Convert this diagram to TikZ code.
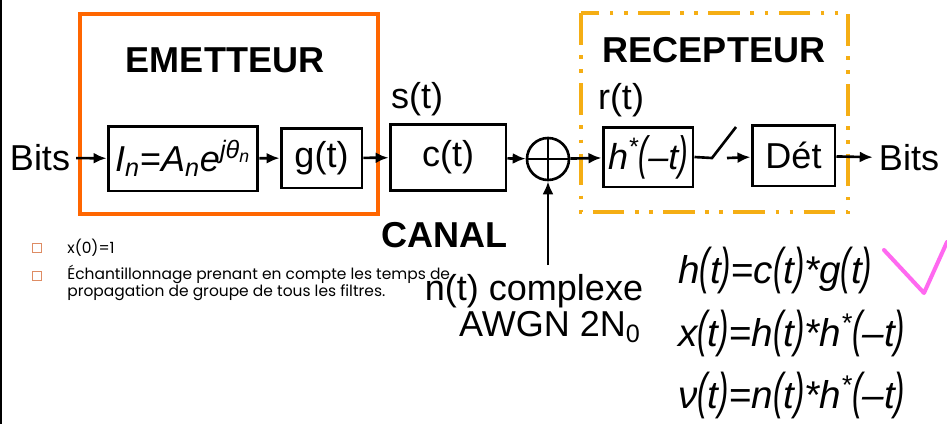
\documentclass[tikz,border=0pt]{standalone}
\usepackage{fontspec}
\setmainfont{Liberation Sans}
\newfontfamily\notefont{Poppins}
\usepackage{graphicx}
\usetikzlibrary{arrows.meta}

\newcommand{\pr}[1]{\scalebox{0.8}[1.3]{(}#1\scalebox{0.8}[1.3]{)}}

\begin{document}
\begin{tikzpicture}[x=0.02cm, y=-0.02cm, >={Latex[length=2.6mm,width=2.2mm]},
    font=\fontsize{20.5}{24}\selectfont,
    blk/.style={draw, line width=1.7pt, inner sep=0pt},
    flow/.style={->, line width=1.5pt},
    note/.style={font=\notefont\fontsize{8.8}{10}\selectfont, anchor=west, inner sep=0pt},
    bul/.style={draw=bulcol, line width=0.6pt, minimum size=0.17cm, inner sep=0pt},
    eqn/.style={font=\fontsize{22}{26}\selectfont\itshape, anchor=west, inner sep=0pt}]
    \definecolor{emorange}{RGB}{255,102,0}
    \definecolor{recyellow}{RGB}{245,174,20}
    \definecolor{bulcol}{RGB}{222,140,100}
    \definecolor{checkpink}{RGB}{255,105,240}

    \useasboundingbox (0,0) rectangle (947,424);
    \fill[white] (0,0) rectangle (947,424);
    \draw[line width=1.5pt] (1,0) -- (1,424);

    % emetteur / recepteur frames
    \draw[emorange, line width=2.3pt] (80,14) rectangle (378,214);
    \draw[recyellow, line width=2.2pt, dash pattern=on 18pt off 6pt on 2pt off 6pt on 2pt off 6pt] (581,13) rectangle (848,212);
    \node (emt) at (225,60) {\bfseries EMETTEUR};
    \node (rec) at (714,50) {\bfseries RECEPTEUR};
    \node (can) at (445,235) {\bfseries CANAL};

    % chain
    \node (bin) at (40,158) {Bits};
    \node[blk, minimum width=3.0cm, minimum height=1.3cm] (mod) at (183,158.5) {\textit{I}\textsubscript{\textit{n}}=\textit{A}\textsubscript{\textit{n}}\textit{e}\textsuperscript{\textit{jθ}\textsubscript{\textit{n}}}};
    \node[blk, minimum width=1.62cm, minimum height=1.2cm] (g) at (321.5,158) {g(t)};
    \node[blk, minimum width=2.32cm, minimum height=1.32cm] (c) at (448,157.5) {c(t)};
    \node[draw, circle, line width=1.5pt, minimum size=0.84cm, inner sep=0pt] (sum) at (548,159) {};
    \draw[line width=1.5pt] (sum.north) -- (sum.south) (sum.west) -- (sum.east);
    \node[blk, minimum width=1.8cm, minimum height=1.2cm] (h) at (648,157) {\itshape h\textsuperscript{*}\pr{–t}};
    \node[blk, minimum width=1.66cm, minimum height=1.22cm] (det) at (793.5,155.5) {Dét};
    \node (bout) at (909,158) {Bits};

    \node (s) at (417,99) {s(t)};
    \node (r) at (621,100) {r(t)};
    \node (n1) at (534,291) {n(t) complexe};
    \node (n2) at (550,327) {AWGN 2N\textsubscript{0}};

    \coordinate (swa) at (712,158);
    \coordinate (swb) at (736,127);
    \coordinate (swc) at (727,158);
    \coordinate (noise) at (548,265);

    \draw[flow] (bin) -- (mod);
    \draw[flow] (mod) -- (g);
    \draw[flow] (g) -- (c);
    \draw[flow] (c) -- (sum);
    \draw[flow] (sum) -- (h);
    \draw[line width=1.5pt] (h.east) -- (swa) -- (swb);
    \draw[flow] (swc) -- (det);
    \draw[flow] (det) -- (bout);
    \draw[flow] (noise) -- (sum.south);

    % notes
    \node[bul] (b1) at (37,248) {};
    \node[bul] (b2) at (37,276) {};
    \node[note] (t1) at (67,248) {x(0)=1};
    \node[note, align=left] (t2) at (67,283) {Échantillonnage prenant en compte les temps de\\propagation de groupe de tous les filtres.};

    % equations
    \node[eqn] (e1) at (678,270) {h\pr{t}{\upshape =}c\pr{t}*g\pr{t}};
    \node[eqn] (e2) at (678,333) {x\pr{t}{\upshape =}h\pr{t}*h\textsuperscript{*}\pr{–t}};
    \node[eqn] (e3) at (678,395) {ν\pr{t}{\upshape =}n\pr{t}*h\textsuperscript{*}\pr{–t}};

    \draw[checkpink, line width=2.3pt, line cap=round, line join=round] (884,250) -- (924,293) -- (947,242);
\end{tikzpicture}
\end{document}
